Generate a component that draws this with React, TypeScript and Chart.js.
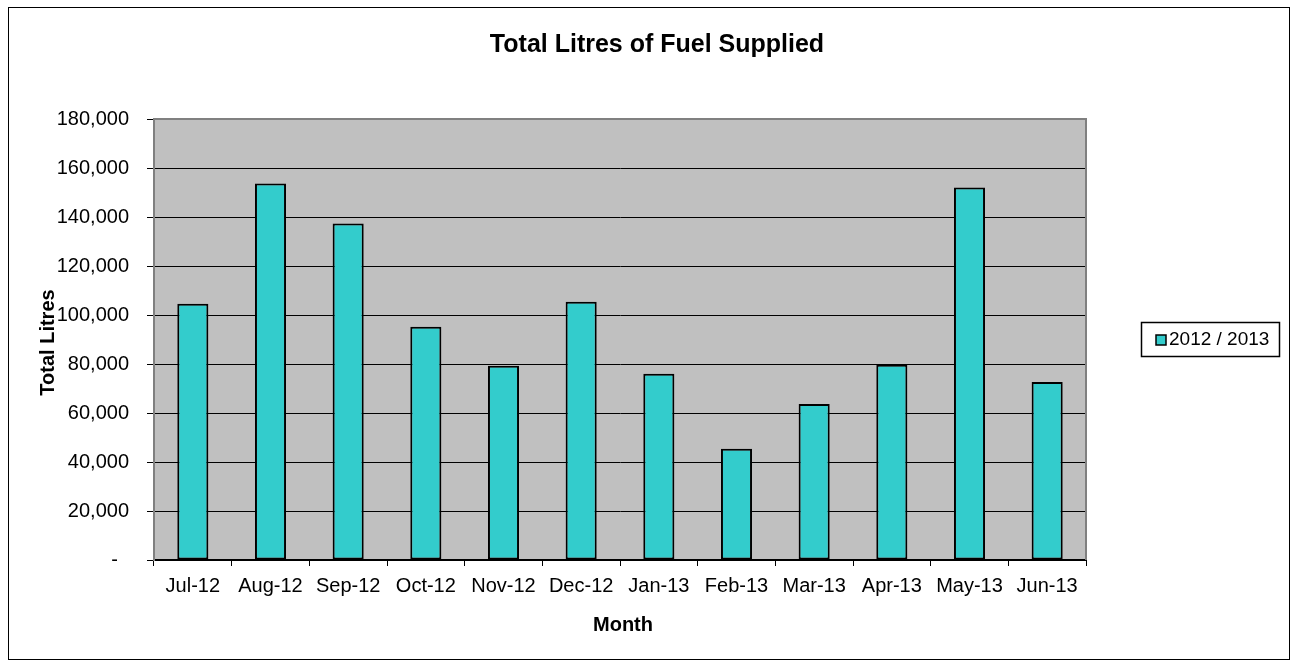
import React, { useEffect, useRef } from "react";
import { Chart, registerables } from "chart.js";

Chart.register(...registerables);

const months = ["Jul-12", "Aug-12", "Sep-12", "Oct-12", "Nov-12", "Dec-12", "Jan-13", "Feb-13", "Mar-13", "Apr-13", "May-13", "Jun-13"];
const litres = [104600, 153700, 137300, 95200, 79300, 105400, 76000, 45400, 63700, 79700, 152000, 72700];
const seriesName = "2012 / 2013";
const chartTitle = "Total Litres of Fuel Supplied";
const xTitle = "Month";
const yTitle = "Total Litres";
const yMin = 0;
const yMax = 180000;
const yStep = 20000;

const BAR = "#33CCCC";
const FONT = "Arial, 'Liberation Sans', sans-serif";

const decor = {
  id: "decor",
  beforeDraw(chart: any) {
    const { ctx, chartArea: a } = chart;
    ctx.save();
    ctx.fillStyle = "#ffffff";
    ctx.fillRect(0, 0, chart.width, chart.height);
    ctx.fillStyle = "#C0C0C0";
    ctx.fillRect(a.left, a.top, a.right - a.left, a.bottom - a.top);
    ctx.restore();
  },
  afterDraw(chart: any) {
    const { ctx, chartArea: a } = chart;
    ctx.save();
    ctx.strokeStyle = "#808080";
    ctx.lineWidth = 2;
    ctx.beginPath();
    ctx.moveTo(a.left, a.top);
    ctx.lineTo(a.right, a.top);
    ctx.lineTo(a.right, a.bottom);
    ctx.stroke();
    ctx.strokeStyle = "#000";
    ctx.lineWidth = 1;
    ctx.strokeRect(8.5, 7.5, 1281, 652);
    ctx.fillStyle = "#000";
    ctx.textAlign = "center";
    ctx.textBaseline = "middle";
    ctx.font = `bold 25px ${FONT}`;
    ctx.fillText(chartTitle, 657, 45);
    ctx.font = `bold 20px ${FONT}`;
    ctx.fillText(xTitle, (a.left + a.right) / 2 + 3, 625);
    ctx.save();
    ctx.translate(48, (a.top + a.bottom) / 2 + 3);
    ctx.rotate(-Math.PI / 2);
    ctx.fillText(yTitle, 0, 0);
    ctx.restore();
    ctx.lineWidth = 1.5;
    ctx.strokeStyle = "#000";
    ctx.strokeRect(1141.5, 322.5, 138, 34);
    ctx.fillStyle = BAR;
    ctx.fillRect(1156, 335, 10, 10);
    ctx.lineWidth = 1.5;
    ctx.strokeRect(1156, 335, 10, 10);
    ctx.fillStyle = "#000";
    ctx.textAlign = "left";
    ctx.font = `19px ${FONT}`;
    ctx.fillText(seriesName, 1169, 340);
    ctx.restore();
  },
};

export default function App() {
  const ref = useRef<HTMLCanvasElement | null>(null);
  useEffect(() => {
    if (!ref.current) return;
    const chart = new Chart(ref.current, {
      type: "bar",
      data: {
        labels: months,
        datasets: [
          {
            label: seriesName,
            data: litres,
            backgroundColor: BAR,
            borderColor: "#000",
            borderWidth: 2,
            borderSkipped: false,
            barPercentage: 0.4,
            categoryPercentage: 1,
          },
        ],
      },
      options: {
        animation: false,
        responsive: false,
        maintainAspectRatio: false,
        layout: { padding: { top: 119, right: 209, left: 0, bottom: 0 } },
        plugins: {
          legend: { display: false },
          title: { display: false },
          tooltip: { enabled: false },
        },
        scales: {
          x: {
            afterFit: (s: any) => {
              s.height = 104;
            },
            grid: {
              offset: true,
              drawOnChartArea: false,
              drawTicks: true,
              tickLength: 6,
              color: "#000",
            },
            border: { display: true, color: "#000", width: 2 },
            ticks: {
              color: "#000",
              font: { family: FONT, size: 20 },
              padding: 8,
              maxRotation: 0,
              autoSkip: false,
            },
          },
          y: {
            min: yMin,
            max: yMax,
            afterFit: (s: any) => {
              s.width = 154;
            },
            grid: {
              color: "#000",
              lineWidth: 1,
              drawTicks: true,
              tickLength: 7,
            },
            border: { display: true, color: "#808080", width: 2 },
            ticks: {
              stepSize: yStep,
              color: "#000",
              font: { family: FONT, size: 20 },
              padding: 18,
              callback: (v: any) => (Number(v) === 0 ? "-  " : Number(v).toLocaleString("en-US")),
            },
          },
        },
      },
      plugins: [decor],
    });
    return () => chart.destroy();
  }, []);
  return (
    <div style={{ position: "absolute", left: 0, top: 0, width: 1295, height: 664 }}>
      <canvas ref={ref} width={1295} height={664} style={{ display: "block" }} />
    </div>
  );
}
